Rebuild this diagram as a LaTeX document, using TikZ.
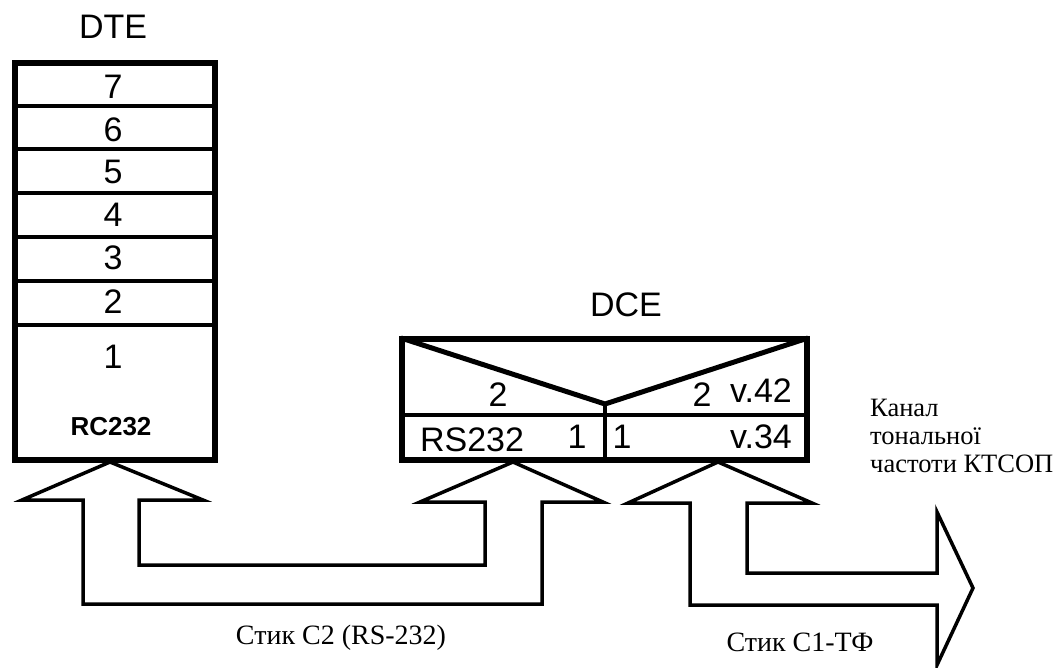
\documentclass[tikz,border=0pt]{standalone}
\usepackage{fontspec}
\setmainfont{Liberation Sans}
\newfontfamily\cyrserif{Liberation Serif}
\tikzset{
  num/.style={inner sep=0pt, font=\fontsize{34}{38}\selectfont},
  capt/.style={inner sep=0pt, font=\cyrserif\fontsize{28}{28}\selectfont},
  frame/.style={line width=6pt},
  sep/.style={line width=4pt},
  blockarrow/.style={line width=3.5pt, miter limit=25},
}
\begin{document}
\begin{tikzpicture}[x=1pt, y=-1pt]
  \useasboundingbox (0,0) rectangle (1062,667);

  % DTE stack of layers
  \node[num] (dtelabel) at (113,27) {DTE};
  \node[draw, frame, minimum width=200pt, minimum height=397pt, inner sep=0pt] (dte) at (115,261.5) {};
  \foreach \yy in {106,149,193,237,281,325}
    \draw[sep] (dte.west |- 0,\yy) -- (dte.east |- 0,\yy);
  \foreach \lbl/\yy in {7/87,6/130,5/172,4/215,3/258,2/302,1/357}
    \node[num] (dte\lbl) at (113,\yy) {\lbl};
  \node[num, font=\bfseries\fontsize{26}{30}\selectfont] (dterc) at (111,427) {RC232};

  % DCE with two protocol stacks
  \node[num] (dcelabel) at (626,305) {DCE};
  \node[draw, frame, minimum width=405pt, minimum height=121pt, inner sep=0pt] (dce) at (604.5,399.5) {};
  \coordinate (dcemid) at (605,404);
  \draw[sep] (dce.west |- 0,415) -- (dce.east |- 0,415);
  \draw[sep] (dcemid) -- (dcemid |- dce.south);
  \draw[line width=5pt] ([shift={(2,2)}]dce.north west) -- (dcemid) -- ([shift={(-2,2)}]dce.north east);
  \node[num] (dceup1) at (498,395) {2};
  \node[num] (dceup2) at (702,395) {2};
  \node[num, anchor=east] (v42) at (792,391) {v.42};
  \node[num] (rs) at (472,440) {RS232};
  \node[num] (dcelo1) at (577,437) {1};
  \node[num] (dcelo2) at (622,437) {1};
  \node[num, anchor=east] (v34) at (792,437) {v.34};

  % Interface C2 (DTE -- DCE)
  \draw[blockarrow] (22,500) -- (110,462) -- (203,500) -- (139,500) -- (139,565)
    -- (485,565) -- (485,502) -- (420,502) -- (513,462) -- (603,502) -- (542,502)
    -- (542,604) -- (83,604) -- (83,500) -- cycle;
  \node[capt, anchor=base] (c2) at (341,644) {Стик С2 (RS-232)};

  % Interface C1-TF (DCE -- line)
  \draw[blockarrow] (628,503) -- (718,462) -- (812,503) -- (747,503) -- (747,573)
    -- (937,573) -- (937,512) -- (973,588) -- (937,665) -- (937,605) -- (690,605)
    -- (690,503) -- cycle;
  \node[capt, anchor=base] (c1) at (800,651) {Стик С1-ТФ};
  \node[capt, font=\cyrserif\fontsize{26.5}{28}\selectfont, anchor=base west, align=left] (ktsop) at (870,472) {Канал\\тональної\\частоти КТСОП};
\end{tikzpicture}
\end{document}
